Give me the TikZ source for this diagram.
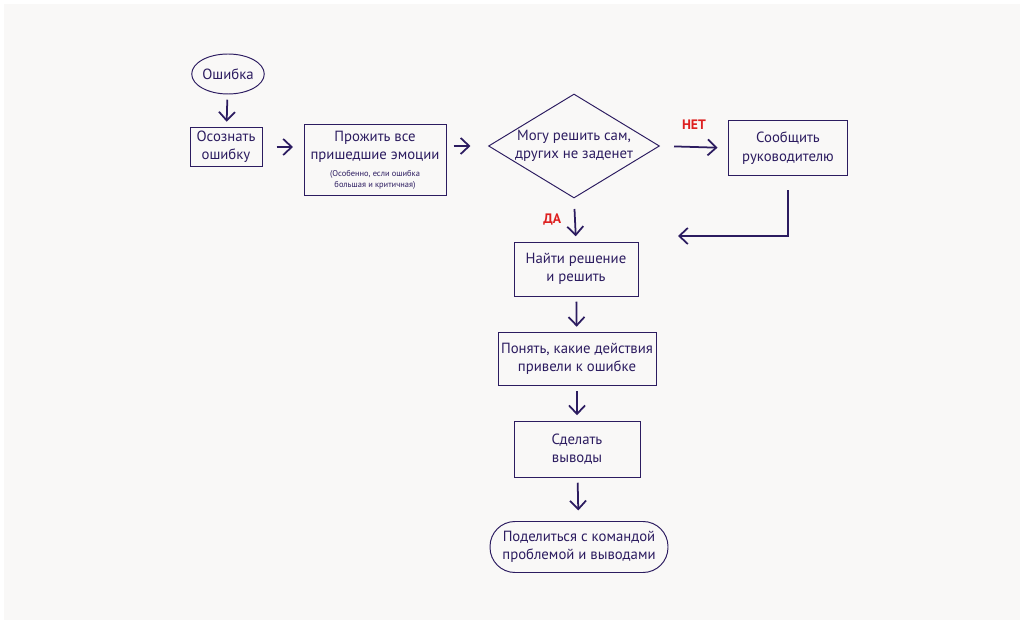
\documentclass[tikz,border=0pt]{standalone}
\usepackage{fontspec}
\setmainfont{PT Sans}
\usetikzlibrary{arrows.meta,shapes.geometric,positioning}
\definecolor{ink}{RGB}{44,28,96}
\definecolor{nored}{RGB}{222,32,32}
\definecolor{paper}{RGB}{249,248,247}
\newcommand{\smalltxt}{\fontsize{4.8}{5.8}\selectfont}
\begin{document}
\begin{tikzpicture}[x=0.02cm,y=-0.02cm,
	box/.style={draw=ink,line width=0.55pt,text=ink,align=center,font=\fontsize{8.4}{10.5}\selectfont,inner sep=0pt},
	oval/.style={box,rounded corners=0.5cm},
	choice/.style={box,diamond,aspect=1.65},
	arr/.style={draw=ink,line width=1pt,shorten <=3pt,shorten >=3pt,-{Straight Barb[length=1.7mm,width=3.2mm]}},
	lbl/.style={text=nored,font=\fontsize{7.8}{9}\selectfont\bfseries}]
	\useasboundingbox (0,0) rectangle (1024,624);
	\fill[white] (0,0) rectangle (1024,624);
	\fill[paper] (4,4) rectangle (1020,620);
	\node[box,ellipse,minimum width=1.4cm,minimum height=0.8cm] (err) at (228,74) {Ошибка};
	\node[box,minimum width=1.44cm,minimum height=0.78cm] (aware) at (226,147) {Осознать\\ошибку};
	\node[box,minimum width=2.84cm,minimum height=1.42cm] (live) at (375,160) {Прожить все\\пришедшие эмоции\\[-1pt]{\smalltxt(Особенно, если ошибка}\\[-4.5pt]{\smalltxt большая и критичная)}};
	\node[choice,minimum width=3.42cm,minimum height=2.08cm] (dec) at (574,146) {Могу решить сам,\\других не заденет};
	\node[box,minimum width=2.38cm,minimum height=1.1cm] (report) at (788,148) {Сообщить\\руководителю};
	\node[box,minimum width=2.48cm,minimum height=1.08cm] (find) at (576,269) {Найти решение\\и решить};
	\node[box,minimum width=3.16cm,minimum height=1.06cm] (grasp) at (577,359) {Понять, какие действия\\привели к ошибке};
	\node[box,minimum width=2.52cm,minimum height=1.12cm] (conclude) at (577,449) {Сделать\\выводы};
	\node[oval,minimum width=3.56cm,minimum height=1.02cm] (share) at (579,547) {Поделиться с командой\\проблемой и выводами};
	\coordinate (join) at (678,236);
	\draw[arr] (err) -- (aware);
	\draw[arr,shorten <=8pt,shorten >=6pt] (aware.east) -- (aware.east -| live.west);
	\draw[arr,shorten <=4pt,shorten >=10pt] (dec.west -| live.east) -- (dec.west);
	\draw[arr,shorten <=8pt,shorten >=6pt] (dec.east) -- node[lbl,above=6pt] {НЕТ} (report.west);
	\draw[arr,shorten <=6pt] (dec.south) -- node[lbl,left=4pt] {ДА} (find.north);
	\draw[arr,shorten <=8pt,shorten >=0pt] (report.south) |- (join);
	\draw[arr] (find) -- (grasp);
	\draw[arr] (grasp) -- (conclude);
	\draw[arr,shorten >=6pt] (conclude) -- (share);
\end{tikzpicture}
\end{document}
